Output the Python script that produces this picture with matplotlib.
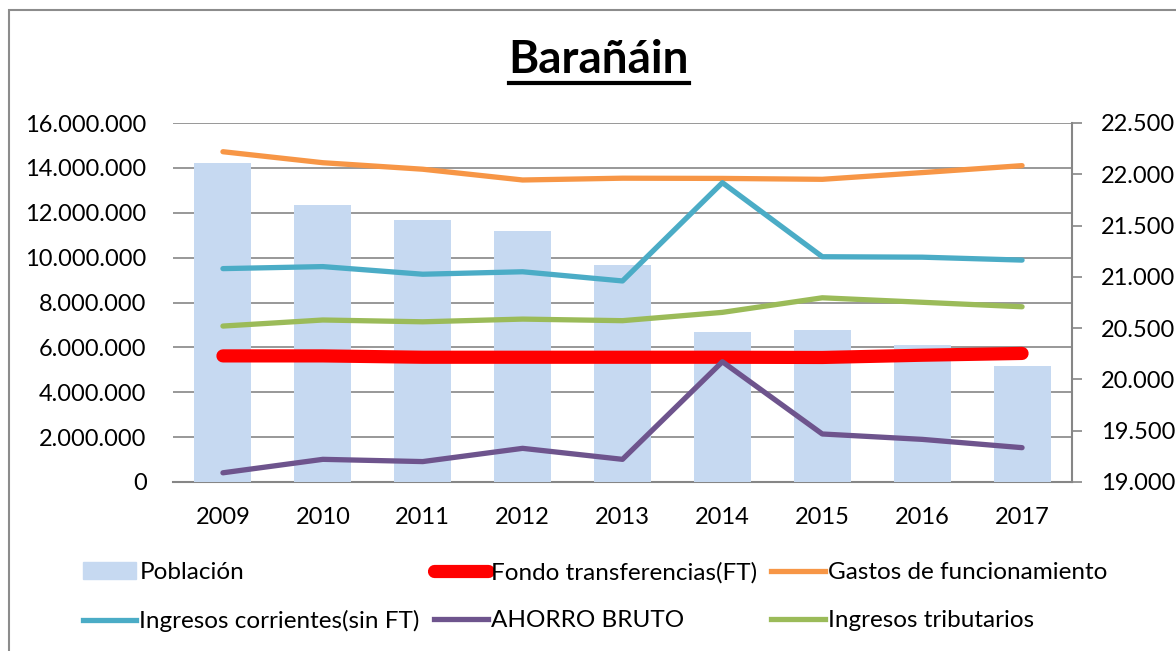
import matplotlib.pyplot as plt
from matplotlib.patches import Rectangle, Patch
from matplotlib.lines import Line2D
from matplotlib.ticker import FuncFormatter, MultipleLocator

plt.rcParams["font.family"] = ["Lato", "DejaVu Sans"]

years = ["2009", "2010", "2011", "2012", "2013", "2014", "2015", "2016", "2017"]
poblacion = [22110, 21705, 21555, 21445, 21120, 20460, 20480, 20335, 20130]
fondo = [5620000, 5620000, 5560000, 5560000, 5560000, 5560000, 5550000, 5650000, 5730000]
gastos = [14720000, 14230000, 13940000, 13460000, 13540000, 13530000, 13490000, 13790000, 14100000]
ingresos_corr = [9510000, 9600000, 9260000, 9370000, 8960000, 13340000, 10040000, 10020000, 9890000]
ahorro = [410000, 1010000, 910000, 1500000, 1010000, 5360000, 2140000, 1900000, 1530000]
tributarios = [6950000, 7220000, 7140000, 7260000, 7190000, 7560000, 8210000, 8010000, 7810000]

GRID = "#868686"
FS = 17


def miles(x, pos):
    return f"{x:,.0f}".replace(",", ".")


def chart():
    fig = plt.figure(figsize=(11.76, 6.51), dpi=100)
    ax = fig.add_axes([173 / 1176, 1 - 482 / 651, (1072 - 173) / 1176, (482 - 123) / 651])
    x = list(range(len(years)))

    # left axis: grid and labels
    ax.set_ylim(0, 16000000)
    ax.set_xlim(-0.5, len(years) - 0.5)
    ax.yaxis.set_major_locator(MultipleLocator(2000000))
    ax.yaxis.set_major_formatter(FuncFormatter(miles))
    ax.grid(True, axis="y", color=GRID, lw=1.2)
    ax.set_axisbelow(True)
    ax.tick_params(axis="y", length=0, pad=19, labelsize=FS)
    ax.tick_params(axis="x", length=0, pad=18, labelsize=FS)
    ax.set_xticks(x)
    ax.set_xticklabels(years)
    for s in ["top", "left", "right"]:
        ax.spines[s].set_visible(False)
    ax.spines["bottom"].set_color(GRID)
    ax.spines["bottom"].set_linewidth(1.5)

    # right axis: bars
    ax2 = ax.twinx()
    ax2.bar(x, poblacion, width=0.57, color="#C6D9F1", zorder=1)
    ax2.set_ylim(19000, 22500)
    ax2.yaxis.set_major_locator(MultipleLocator(500))
    ax2.yaxis.set_major_formatter(FuncFormatter(miles))
    ax2.tick_params(axis="y", length=7, width=1.2, color=GRID, pad=14, labelsize=FS)
    for s in ["top", "left", "bottom"]:
        ax2.spines[s].set_visible(False)
    ax2.spines["right"].set_color(GRID)
    ax2.spines["right"].set_linewidth(1.5)

    # lines on top, sharing left scale
    ax3 = ax.twinx()
    ax3.set_ylim(0, 16000000)
    ax3.axis("off")
    kw = dict(solid_capstyle="round", solid_joinstyle="round")
    ax3.plot(x, fondo, color="#FF0000", lw=9.5, **kw)
    ax3.plot(x, gastos, color="#F79646", lw=3.8, **kw)
    ax3.plot(x, ingresos_corr, color="#4BACC6", lw=3.8, **kw)
    ax3.plot(x, ahorro, color="#6E548D", lw=3.8, **kw)
    ax3.plot(x, tributarios, color="#9BBB59", lw=3.8, **kw)

    # title with underline
    t = fig.text(599 / 1176, 1 - 60 / 651, "Barañáin", ha="center", va="center",
                 fontsize=33, fontweight="bold")
    fig.canvas.draw()
    bb = t.get_window_extent().transformed(fig.transFigure.inverted())
    fig.add_artist(Line2D([bb.x0, bb.x1], [1 - 83 / 651] * 2, color="black", lw=3))

    # legend, row-major order
    h_pob = Patch(color="#C6D9F1")
    h_fondo = Line2D([], [], color="#FF0000", lw=9.5, solid_capstyle="round")
    h_gastos = Line2D([], [], color="#F79646", lw=3.8)
    h_ing = Line2D([], [], color="#4BACC6", lw=3.8)
    h_aho = Line2D([], [], color="#6E548D", lw=3.8)
    h_trib = Line2D([], [], color="#9BBB59", lw=3.8)
    handles = [h_pob, h_ing, h_fondo, h_aho, h_gastos, h_trib]
    labels = ["Población", "Ingresos corrientes(sin FT)", "Fondo transferencias(FT)",
              "AHORRO BRUTO", "Gastos de funcionamiento", "Ingresos tributarios"]
    fig.legend(handles, labels, ncol=3, loc="center left", bbox_to_anchor=(61 / 1176, 1 - 597 / 651),
               frameon=False, fontsize=17.5, handlelength=2.2, handletextpad=0.12,
               columnspacing=0.6, labelspacing=1.12)

    # chart border
    fig.add_artist(Rectangle((9 / 1176, -0.1), 1.2, 1 - 10 / 651 + 0.1, transform=fig.transFigure,
                             fill=False, edgecolor="#8C8C8C", lw=1.5))

    plt.savefig("out.png", dpi=100)


def main():
    chart()


if __name__ == "__main__":
    main()
